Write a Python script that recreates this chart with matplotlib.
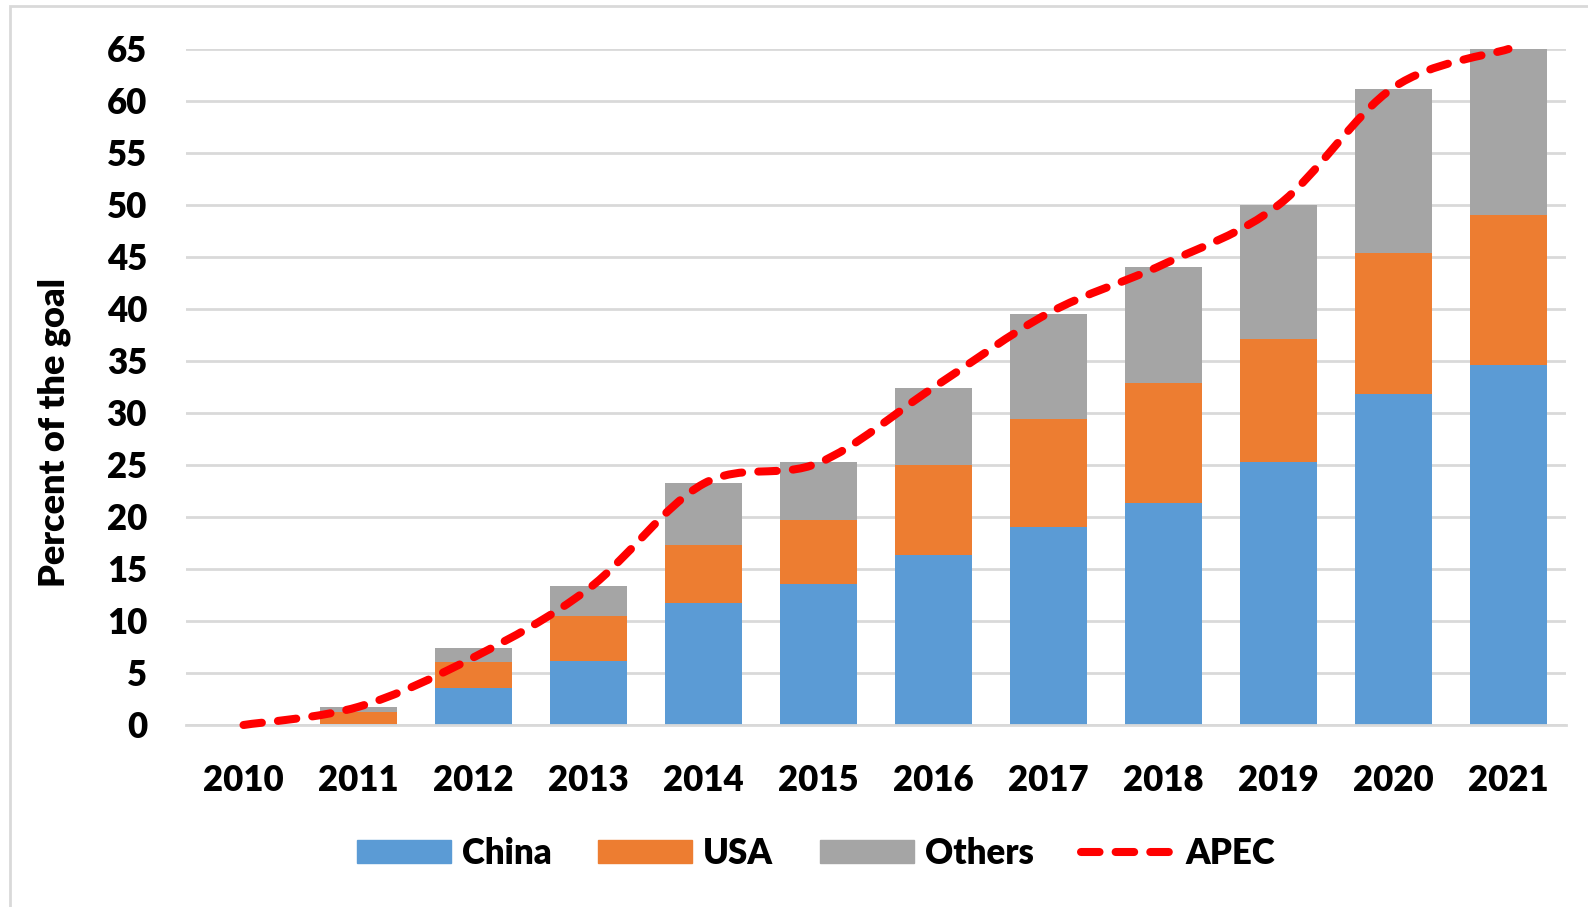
import matplotlib.pyplot as plt
from matplotlib.path import Path
from matplotlib.patches import PathPatch, Rectangle, Patch
from matplotlib.lines import Line2D
import numpy as np

years = ['2010', '2011', '2012', '2013', '2014', '2015', '2016', '2017', '2018', '2019', '2020', '2021']
china = [0.0, 0.13, 3.6, 6.2, 11.7, 13.55, 16.3, 19.0, 21.35, 25.25, 31.85, 34.6]
usa = [0.0, 1.15, 2.5, 4.3, 5.65, 6.2, 8.7, 10.4, 11.55, 11.9, 13.5, 14.4]
others = [0.0, 0.45, 1.35, 2.85, 5.95, 5.55, 7.45, 10.15, 11.1, 12.85, 15.85, 16.0]
apec = [0.0, 1.75, 6.5, 13.1, 23.2, 25.2, 32.45, 39.6, 44.3, 50.0, 61.3, 65.0]

C_CHINA = '#5B9BD5'
C_USA = '#ED7D31'
C_OTHERS = '#A5A5A5'
C_APEC = '#FF0000'
GRID = '#D9D9D9'

plt.rcParams['font.family'] = ['Lato', 'DejaVu Sans']
plt.rcParams['font.weight'] = 'heavy'

fig = plt.figure(figsize=(15.88, 9.07), dpi=100)
ax = fig.add_axes([186 / 1588, 1 - 725 / 907, 1380 / 1588, 676 / 907])

x = np.arange(len(years))
bottom2 = np.array(china) + np.array(usa)
ax.bar(x, china, width=0.667, color=C_CHINA, zorder=2)
ax.bar(x, usa, width=0.667, bottom=china, color=C_USA, zorder=2)
ax.bar(x, others, width=0.667, bottom=bottom2, color=C_OTHERS, zorder=2)

# smoothed line (Excel-style bezier through the data points)
pts = np.column_stack([x, apec]).astype(float)
verts = [pts[0]]
codes = [Path.MOVETO]
n = len(pts)
for i in range(n - 1):
    p0 = pts[max(i - 1, 0)]
    p1 = pts[i]
    p2 = pts[i + 1]
    p3 = pts[min(i + 2, n - 1)]
    c1 = p1 + (p2 - p0) / 6
    c2 = p2 - (p3 - p1) / 6
    verts += [c1, c2, p2]
    codes += [Path.CURVE4] * 3
lw = 5.8
dash = (2.3, 2.0)
patch = PathPatch(Path(verts, codes), facecolor='none', edgecolor=C_APEC, lw=lw,
                  linestyle=(0, dash), capstyle='round', zorder=3, clip_on=False)
ax.add_patch(patch)

ax.set_xlim(-0.5, len(years) - 0.5)
ax.set_ylim(0, 65)
ax.set_yticks(range(0, 66, 5))
ax.set_xticks(x)
ax.set_xticklabels(years)
ax.grid(axis='y', color=GRID, lw=2, zorder=0)
for s in ['top', 'right', 'left']:
    ax.spines[s].set_visible(False)
ax.spines['bottom'].set_color(GRID)
ax.spines['bottom'].set_linewidth(2)
ax.tick_params(axis='both', length=0, labelsize=25)
ax.tick_params(axis='y', pad=28)
ax.tick_params(axis='x', pad=28)
ax.set_ylabel('Percent of the goal', fontsize=26, fontweight='heavy')
ax.yaxis.set_label_coords(-0.083, 0.432)

handles = [Patch(color=C_CHINA, label='China'),
           Patch(color=C_USA, label='USA'),
           Patch(color=C_OTHERS, label='Others'),
           Line2D([], [], color=C_APEC, lw=lw, linestyle=(0, dash),
                  dash_capstyle='round', label='APEC')]
fig.legend(handles=handles, loc='center', bbox_to_anchor=(816 / 1588, 1 - 853 / 907),
           ncol=4, frameon=False, fontsize=25, handlelength=2.7, handleheight=0.65,
           handletextpad=0.32, columnspacing=1.35)

fig.patches.append(Rectangle((10 / 1588, -0.1), 1.2, 1 - 6 / 907 + 0.1,
                             transform=fig.transFigure, fill=False,
                             edgecolor=GRID, lw=2))

fig.savefig('out.png', dpi=100)
